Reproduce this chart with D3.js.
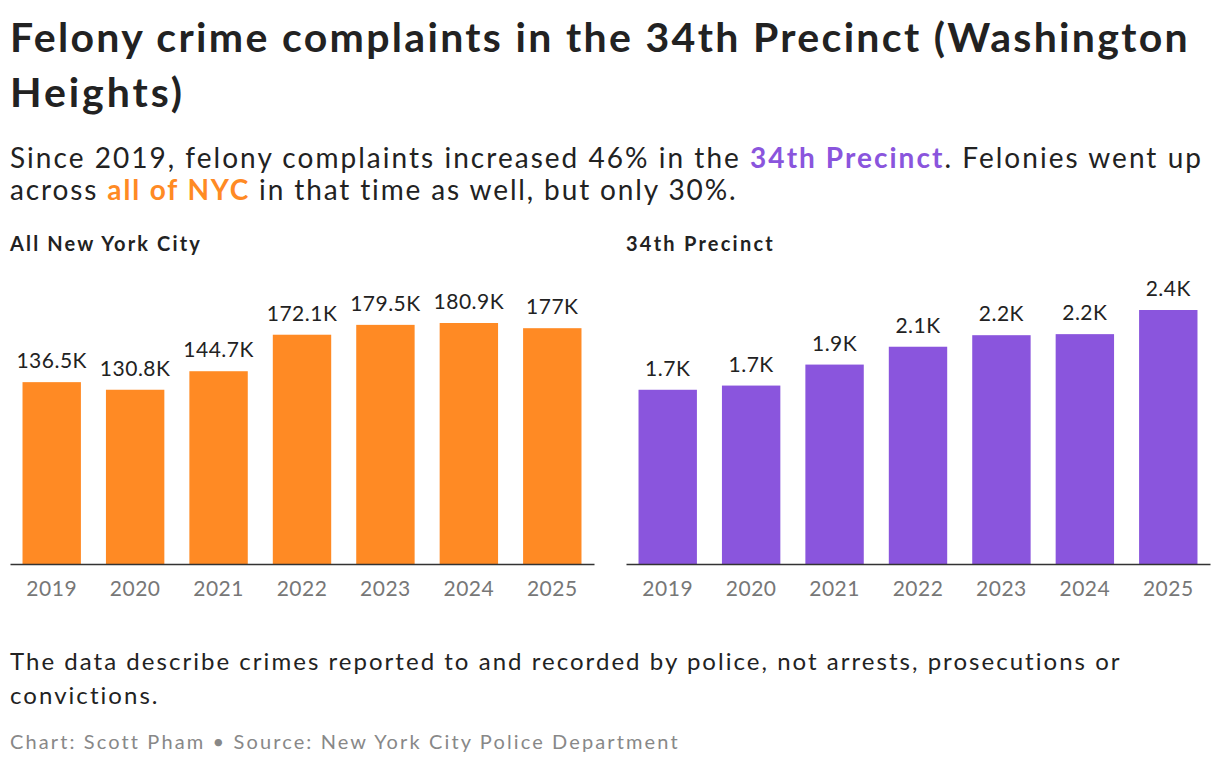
<!DOCTYPE html><html><head><meta charset="utf-8"><script src="https://cdn.jsdelivr.net/npm/d3@7"></script>
<style>body{margin:0;background:#fff;font-family:Lato,"Noto Sans",sans-serif;}</style></head><body><svg id="c" width="1220" height="768"></svg>
<script>
const years=["2019","2020","2021","2022","2023","2024","2025"];
const nycValues=[136.5,130.8,144.7,172.1,179.5,180.9,177.0];
const nycLabels=["136.5K","130.8K","144.7K","172.1K","179.5K","180.9K","177K"];
const pctValues=[1.66,1.70,1.90,2.07,2.18,2.19,2.42];
const pctLabels=["1.7K","1.7K","1.9K","2.1K","2.2K","2.2K","2.4K"];
const svg=d3.select("#c");
function fit(sel,target){const w=sel.node().getComputedTextLength();const n=sel.text().length;if(w<target)sel.attr("letter-spacing",(target-w)/n);}
const t=svg.append("text").attr("x",10).attr("font-size",41).attr("font-weight",700).attr("fill","#222");
fit(t.append("tspan").attr("x",10).attr("y",52).text("Felony crime complaints in the 34th Precinct (Washington"),1180);
fit(t.append("tspan").attr("x",10).attr("y",107).text("Heights)"),175);
const s=svg.append("text").attr("font-size",28).attr("fill","#222");
const l1=s.append("tspan").attr("x",10).attr("y",168);
l1.append("tspan").text("Since 2019, felony complaints increased 46% in the ");
l1.append("tspan").attr("font-weight",700).attr("fill","#8a55dd").text("34th Precinct");
l1.append("tspan").text(". Felonies went up");
fit(l1,1193);
const l2=s.append("tspan").attr("x",10).attr("y",200);
l2.append("tspan").text("across ");
l2.append("tspan").attr("font-weight",700).attr("fill","#ff8a24").text("all of NYC");
l2.append("tspan").text(" in that time as well, but only 30%.");
fit(l2,728);
const base=564;
function panel(title,x0,x1,vals,labels,color,pxPerUnit,tw){
  fit(svg.append("text").attr("x",x0).attr("y",251).attr("font-size",20).attr("font-weight",700).attr("fill","#222").text(title),tw);
  const x=d3.scaleBand().domain(years).range([x0,x1]).paddingInner(0.3).paddingOuter(0.15);
  const maxV=d3.max(vals);
  const y=d3.scaleLinear().domain([0,maxV]).range([base,base-maxV*pxPerUnit]);
  const g=svg.append("g");
  g.selectAll("rect").data(vals).join("rect").attr("x",(d,i)=>x(years[i])).attr("width",x.bandwidth())
    .attr("y",d=>y(d)).attr("height",d=>base-y(d)).attr("fill",color);
  g.selectAll(".v").data(vals).join("text").attr("x",(d,i)=>x(years[i])+x.bandwidth()/2).attr("y",d=>y(d)-14)
    .attr("text-anchor","middle").attr("font-size",21).attr("letter-spacing",0.5).attr("fill","#222").text((d,i)=>labels[i]);
  const ax=svg.append("g").attr("transform",`translate(0,${base})`).call(d3.axisBottom(x).tickSize(0).tickPadding(17));
  ax.select(".domain").attr("stroke","#333").attr("stroke-width",1.5);
  ax.selectAll("text").attr("font-size",21).attr("letter-spacing",0.5).attr("fill","#777").attr("font-family","Lato,'Noto Sans',sans-serif");
}
panel("All New York City",10,594,nycValues,nycLabels,"#ff8a24",241/180.9,192);
panel("34th Precinct",626,1210,pctValues,pctLabels,"#8a55dd",254/2.42,149);
const n=svg.append("text").attr("font-size",24).attr("fill","#222");
fit(n.append("tspan").attr("x",10).attr("y",670).text("The data describe crimes reported to and recorded by police, not arrests, prosecutions or"),1112);
fit(n.append("tspan").attr("x",10).attr("y",704).text("convictions."),150);
fit(svg.append("text").attr("x",10).attr("y",749).attr("font-size",20).attr("fill","#888").text("Chart: Scott Pham • Source: New York City Police Department"),669);
</script></body></html>
